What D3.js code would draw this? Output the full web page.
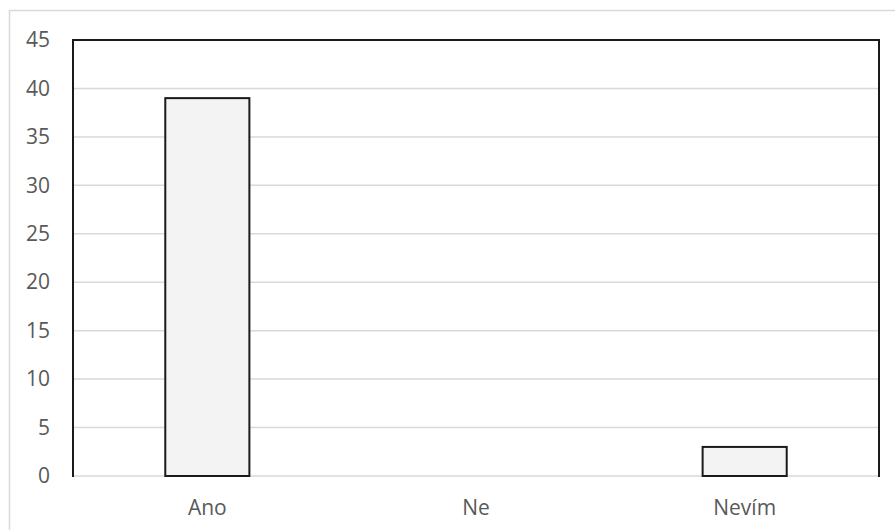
<!DOCTYPE html>
<html>
<head>
<meta charset="utf-8">
<script src="https://cdn.jsdelivr.net/npm/d3@7"></script>
<style>
  html, body { margin: 0; padding: 0; background: #fff; }
  svg { display: block; }
</style>
</head>
<body>
<svg id="chart" width="895" height="530"></svg>
<script>
// Answers and counts
const categories = ["Ano", "Ne", "Nevím"];
const counts = [39, 0, 3];
const yTicks = [0, 5, 10, 15, 20, 25, 30, 35, 40, 45];

const svg = d3.select("#chart");
const plot = { left: 73, right: 879, top: 40, bottom: 476 };
const font = "'Open Sans', 'Noto Sans', sans-serif";

// Outer chart frame
svg.append("rect")
  .attr("x", 9.5).attr("y", 10.5)
  .attr("width", 900).attr("height", 540)
  .attr("fill", "#fff")
  .attr("stroke", "#d9d9d9")
  .attr("stroke-width", 1.5);

const x = d3.scaleBand()
  .domain(categories)
  .range([plot.left, plot.right])
  .paddingInner(0.687)
  .paddingOuter(0.3435);

const y = d3.scaleLinear()
  .domain([0, 45])
  .range([plot.bottom, plot.top]);

// Horizontal gridlines
svg.append("g")
  .selectAll("line")
  .data(yTicks)
  .join("line")
  .attr("x1", plot.left).attr("x2", plot.right)
  .attr("y1", d => y(d)).attr("y2", d => y(d))
  .attr("stroke", "#d9d9d9")
  .attr("stroke-width", 1.5);

// Bars
svg.append("g")
  .selectAll("rect")
  .data(categories.map((c, i) => ({ c, v: counts[i] })).filter(d => d.v > 0))
  .join("rect")
  .attr("x", d => x(d.c))
  .attr("y", d => y(d.v))
  .attr("width", x.bandwidth())
  .attr("height", d => y(0) - y(d.v))
  .attr("fill", "#f2f3f2")
  .attr("stroke", "#1a1a1a")
  .attr("stroke-width", 2);

// Plot frame: top, left, right in black
svg.append("path")
  .attr("d", `M${plot.left},${plot.bottom + 1} V${plot.top} H${plot.right} V${plot.bottom + 1}`)
  .attr("fill", "none")
  .attr("stroke", "#1a1a1a")
  .attr("stroke-width", 2);

// Y axis labels
const yAxis = d3.axisLeft(y).tickValues(yTicks).tickSize(0).tickPadding(23);
const gy = svg.append("g").attr("transform", `translate(${plot.left},0)`).call(yAxis);
gy.select(".domain").remove();
gy.selectAll("text")
  .attr("font-family", font)
  .attr("font-size", 21)
  .attr("fill", "#595959");

// X axis labels
const xAxis = d3.axisBottom(x).tickSize(0).tickPadding(24);
const gx = svg.append("g").attr("transform", `translate(0,${plot.bottom})`).call(xAxis);
gx.select(".domain").remove();
gx.selectAll("text")
  .attr("font-family", font)
  .attr("font-size", 21)
  .attr("fill", "#595959");
</script>
</body>
</html>
